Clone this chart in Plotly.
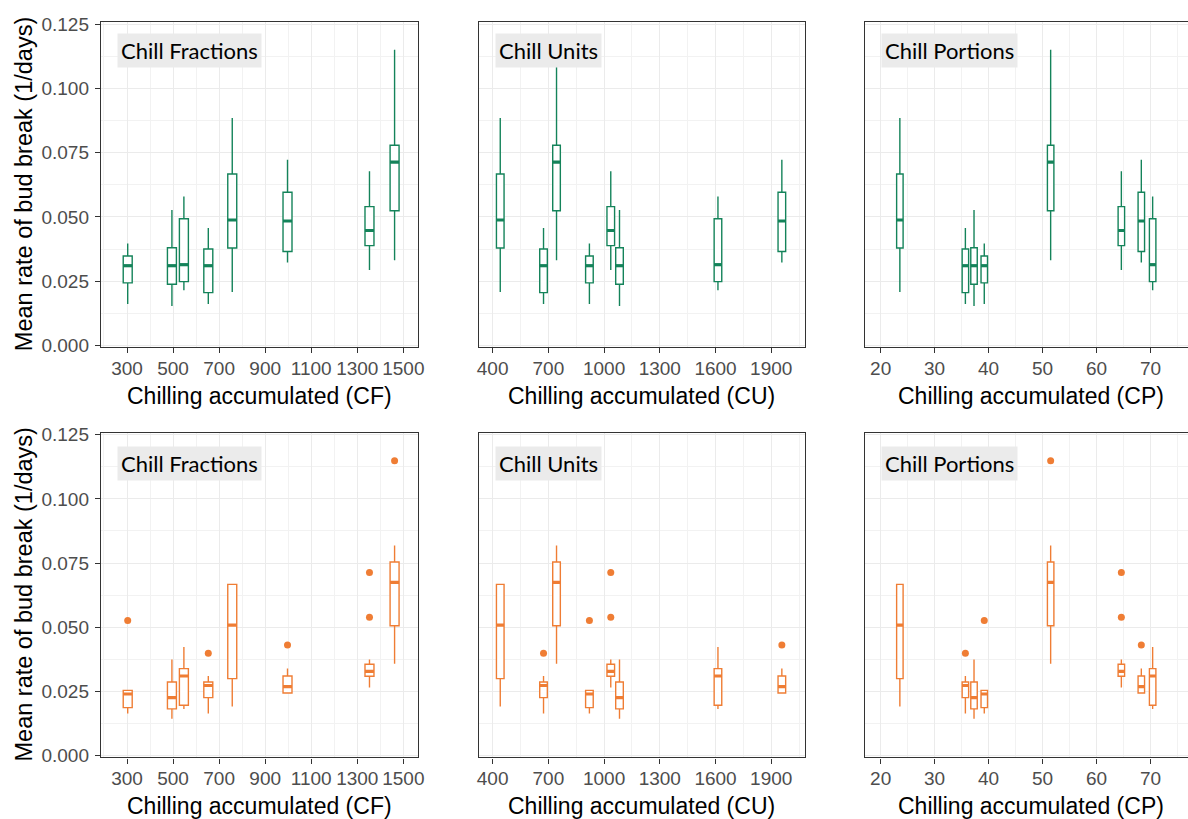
import plotly.graph_objects as go

# ---- data: eight seasons, chill accumulated under three chill models ----
chill_fractions = [303, 495, 547, 653, 757, 997, 1353, 1462]
chill_units = [921, 1083, 1613, 674, 441, 1957, 1036, 744]
chill_portions = [39.2, 37.3, 70.4, 35.7, 23.56, 68.3, 64.6, 51.5]

# mean rate of bud break (1/days), box statistics per season - first cultivar
a_low = [0.0161, 0.0153, 0.0214, 0.0161, 0.0208, 0.0322, 0.0293, 0.0331]
a_q1 = [0.0243, 0.0238, 0.0248, 0.0205, 0.0379, 0.0365, 0.0388, 0.0524]
a_med = [0.0310, 0.0310, 0.0314, 0.0310, 0.0488, 0.0484, 0.0447, 0.0713]
a_q3 = [0.0348, 0.0380, 0.0493, 0.0375, 0.0667, 0.0596, 0.0540, 0.0779]
a_high = [0.0396, 0.0527, 0.0579, 0.0457, 0.0885, 0.0723, 0.0678, 0.1151]

# second cultivar
b_low = [0.0164, 0.0144, 0.0182, 0.0164, 0.0191, 0.0244, 0.0265, 0.0358]
b_q1 = [0.0187, 0.0182, 0.0196, 0.0226, 0.0300, 0.0244, 0.0309, 0.0506]
b_med = [0.0240, 0.0226, 0.0310, 0.0273, 0.0508, 0.0269, 0.0328, 0.0675]
b_q3 = [0.0254, 0.0287, 0.0339, 0.0287, 0.0667, 0.0310, 0.0356, 0.0754]
b_high = [0.0254, 0.0374, 0.0423, 0.0310, 0.0667, 0.0339, 0.0374, 0.0818]
b_out_season = [0, 3, 5, 6, 6, 7]
b_out_rate = [0.0526, 0.0399, 0.0431, 0.0713, 0.0539, 0.1149]

models = ["Chill Fractions", "Chill Units", "Chill Portions"]
model_x = [chill_fractions, chill_units, chill_portions]
model_abbr = ["CF", "CU", "CP"]

# ---- styling ----
GREEN = "#14835A"
ORANGE = "#EF7D34"
W, H = 1188, 819
x_dom_px = [(101, 418.3), (478.7, 804.7), (865, 1188)]
y_dom_px = [(22.3, 347), (432.7, 757.3)]
x_ranges = [[187, 1565], [325, 2080], [17.1, 76.95]]
x_tick0 = [300, 400, 20]
x_dtick = [200, 300, 10]
box_width = [39, 41, 1.2]
y_range = [-0.00066, 0.12578]

fig = go.Figure()
rows = [
    (GREEN, a_low, a_q1, a_med, a_q3, a_high, None),
    (ORANGE, b_low, b_q1, b_med, b_q3, b_high, (b_out_season, b_out_rate)),
]

n = 0
for r, (col, lo, q1, med, q3, hi, outl) in enumerate(rows):
    for c in range(3):
        n += 1
        xa = "x" if n == 1 else f"x{n}"
        ya = "y" if n == 1 else f"y{n}"
        xs = model_x[c]
        fig.add_trace(go.Box(
            x=xs, q1=q1, median=med, q3=q3, lowerfence=lo, upperfence=hi,
            width=box_width[c], fillcolor="white", whiskerwidth=0,
            line=dict(color=col, width=1.4), boxpoints=False,
            hoverinfo="skip", showlegend=False, xaxis=xa, yaxis=ya,
        ))
        # heavier median bars
        mx, my = [], []
        for xv, mv in zip(xs, med):
            mx += [xv - box_width[c] / 2, xv + box_width[c] / 2, None]
            my += [mv, mv, None]
        fig.add_trace(go.Scatter(
            x=mx, y=my, mode="lines", line=dict(color=col, width=3.2),
            hoverinfo="skip", showlegend=False, xaxis=xa, yaxis=ya,
        ))
        if outl is not None:
            fig.add_trace(go.Scatter(
                x=[xs[i] for i in outl[0]], y=outl[1], mode="markers",
                marker=dict(color=col, size=7, line=dict(width=0)),
                hoverinfo="skip", showlegend=False, xaxis=xa, yaxis=ya,
            ))

        xd = [x_dom_px[c][0] / W, min(1.0, x_dom_px[c][1] / W)]
        yd = [1 - y_dom_px[r][1] / H, 1 - y_dom_px[r][0] / H]
        axis_common = dict(
            showline=True, linecolor="#333333", linewidth=1.4, automargin=False,
            showgrid=True, gridcolor="#EBEBEB", gridwidth=1.4, zeroline=False,
            tickfont=dict(family="Liberation Sans, Arial, sans-serif", size=19, color="#4D4D4D"),
        )
        fig.layout[f"xaxis{'' if n == 1 else n}"] = dict(
            axis_common, domain=xd, anchor=ya, range=x_ranges[c],
            tick0=x_tick0[c], dtick=x_dtick[c], mirror=True,
            ticks="outside", ticklen=5, tickwidth=1.2, tickcolor="#333333",
            minor=dict(dtick=x_dtick[c] / 2, tick0=x_tick0[c], showgrid=True,
                       gridcolor="#F2F2F2", gridwidth=0.8, ticks=""),
            ticklabelstandoff=-1,
        )
        ydict = dict(
            axis_common, domain=yd, anchor=xa, range=y_range,
            tick0=0, dtick=0.025, mirror=(c != 2),
            minor=dict(dtick=0.0125, tick0=0, showgrid=True,
                       gridcolor="#F2F2F2", gridwidth=0.8, ticks=""),
        )
        if c == 0:
            ydict.update(ticks="outside", ticklen=5, tickwidth=1.2,
                         tickcolor="#333333", tickformat=".3f",
                         showticklabels=True, ticklabelstandoff=2)
        else:
            ydict.update(ticks="", showticklabels=False)
        fig.layout[f"yaxis{'' if n == 1 else n}"] = ydict

        # facet label
        fig.add_annotation(
            text=models[c], xref="paper", yref="paper",
            x=(x_dom_px[c][0] + 16) / W, y=yd[1] - (10.5 + 3 * r) / H,
            xanchor="left", yanchor="top", showarrow=False,
            bgcolor="#EBEBEB", borderpad=3,
            font=dict(family="Lato, Carlito, sans-serif", size=22, color="black"),
        )
        # x axis title
        fig.add_annotation(
            text=f"Chilling accumulated ({model_abbr[c]})", xref="paper", yref="paper",
            x=(x_dom_px[c][0] + x_dom_px[c][1]) / 2 / W + (0.004 if c == 2 else 0),
            y=1 - (y_dom_px[r][1] + 48.5) / H,
            xanchor="center", yanchor="middle", showarrow=False,
            font=dict(family="Liberation Sans, Arial, sans-serif", size=23, color="black"),
        )
    # y axis title for the row
    fig.add_annotation(
        text="Mean rate of bud break (1/days)", xref="paper", yref="paper",
        x=23.5 / W, y=1 - (y_dom_px[r][0] + y_dom_px[r][1]) / 2 / H,
        xanchor="center", yanchor="middle", textangle=-90, showarrow=False,
        font=dict(family="Liberation Sans, Arial, sans-serif", size=23.5, color="black"),
    )

fig.update_layout(
    width=W, height=H, margin=dict(l=0, r=0, t=0, b=0, autoexpand=False),
    paper_bgcolor="white", plot_bgcolor="white", boxmode="overlay",
    showlegend=False,
)

fig.write_html("out.html")
